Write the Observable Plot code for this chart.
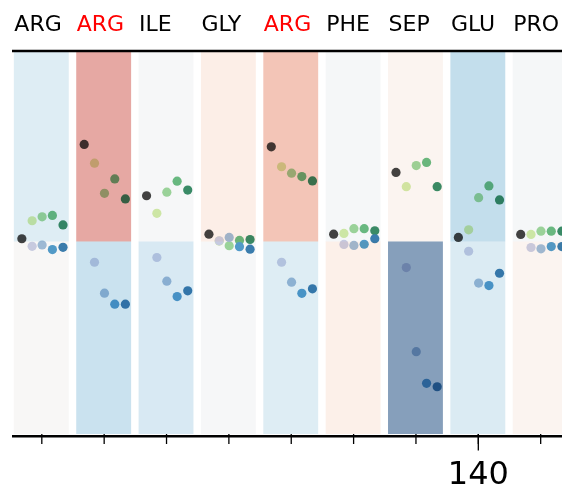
<!DOCTYPE html>
<html>
<head>
<meta charset="utf-8">
<script src="https://cdn.jsdelivr.net/npm/d3@7"></script>
<script src="https://cdn.jsdelivr.net/npm/@observablehq/plot@0.6"></script>
<style>
html, body { margin: 0; padding: 0; background: #ffffff; }
#chart svg { display: block; }
</style>
</head>
<body>
<div id="chart"></div>
<script>
// ---- data ----
const residues = ["ARG", "ARG", "ILE", "GLY", "ARG", "PHE", "SEP", "GLU", "PRO"];
const resNums = [133, 134, 135, 136, 137, 138, 139, 140, 141];
const highlighted = [false, true, false, false, true, false, false, false, false];
const labelledTicks = [140];

// shading value of the upper / lower half of each residue column
const topShade = [-0.26, 0.64, -0.04, 0.16, 0.47, -0.05, 0.08, -0.42, -0.05];
const bottomShade = [0.0, -0.38, -0.30, -0.04, -0.26, 0.14, -0.94, -0.28, 0.08];

// reference value (dark point)
const reference = [0.017, 0.515, 0.244, 0.041, 0.502, 0.041, 0.367, 0.024, 0.040];
// upper (green) series
const upper1 = [0.112, 0.416, 0.151, 0.005, 0.397, 0.045, 0.292, 0.064, 0.040];
const upper2 = [0.133, 0.257, 0.263, -0.020, 0.363, 0.070, 0.403, 0.234, 0.057];
const upper3 = [0.140, 0.333, 0.321, 0.008, 0.345, 0.070, 0.420, 0.296, 0.057];
const upper4 = [0.090, 0.227, 0.274, 0.013, 0.322, 0.059, 0.292, 0.222, 0.057];
// lower (blue) series
const lower1 = [-0.023, -0.107, -0.082, 0.006, -0.107, -0.013, -0.135, -0.049, -0.029];
const lower2 = [-0.016, -0.270, -0.207, 0.024, -0.212, -0.018, -0.579, -0.217, -0.036];
const lower3 = [-0.040, -0.328, -0.288, -0.025, -0.271, -0.012, -0.746, -0.230, -0.024];
const lower4 = [-0.028, -0.328, -0.258, -0.038, -0.247, 0.017, -0.764, -0.165, -0.024];

// ---- layout / style ----
const yLow = -1.016, yHigh = 1;
const half = 0.44;
const refOffset = -0.32;
const seriesOffsets = [-0.155, 0.005, 0.17, 0.34];
const greens = ["#d5eeaa", "#a0d99d", "#6cbe84", "#3b8f69"];
const blues = ["#cdd1e8", "#a2bfdc", "#549fcf", "#3c80b2"];

const idx = d3.range(residues.length);
const bands = idx.flatMap(i => [
  {num: resNums[i], lo: 0, hi: yHigh, shade: topShade[i]},
  {num: resNums[i], lo: yLow, hi: 0, shade: bottomShade[i]}
]);

const dotMark = (values, offset, color) =>
  Plot.dot(idx, {x: i => resNums[i] + offset, y: i => values[i], r: 4.6, fill: color, stroke: "none"});

const upperSeries = [upper1, upper2, upper3, upper4];
const lowerSeries = [lower1, lower2, lower3, lower4];

const chart = Plot.plot({
  width: 562,
  height: 491,
  marginLeft: 12,
  marginRight: 0,
  marginTop: 52,
  marginBottom: 57,
  x: {domain: [132.53, 141.35], axis: null},
  y: {domain: [yLow, yHigh], axis: null},
  color: {type: "linear", scheme: "RdBu", domain: [-1, 1], reverse: true},
  style: {fontFamily: "DejaVu Sans", background: "white", color: "black"},
  marks: [
    Plot.frame({fill: "white", stroke: "none"}),
    dotMark(reference, refOffset, "#444444"),
    ...upperSeries.map((s, k) => dotMark(s, seriesOffsets[k], greens[k])),
    ...lowerSeries.map((s, k) => dotMark(s, seriesOffsets[k], blues[k])),
    Plot.rect(bands, {
      x1: d => d.num - half, x2: d => d.num + half,
      y1: "lo", y2: "hi",
      fill: "shade", fillOpacity: 0.5, mixBlendMode: "multiply"
    }),
    Plot.ruleY([yHigh], {stroke: "black", strokeWidth: 2.5, dy: -1.5}),
    Plot.ruleY([yLow], {stroke: "black", strokeWidth: 2.5, dy: 1.8}),
    Plot.axisX(resNums, {tickSize: 10, strokeWidth: 1.3, tickFormat: () => "", label: null}),
    Plot.axisX(labelledTicks, {tickSize: 16.5, tickPadding: 10.5, strokeWidth: 1.3, fontSize: 32, tickFormat: d => String(d), label: null}),
    Plot.text(idx.filter(i => !highlighted[i]), {
      x: i => resNums[i] - half, text: i => residues[i],
      frameAnchor: "top", dy: -22, lineAnchor: "bottom", textAnchor: "start",
      fontSize: 22, fill: "black"
    }),
    Plot.text(idx.filter(i => highlighted[i]), {
      x: i => resNums[i] - half, text: i => residues[i],
      frameAnchor: "top", dy: -22, lineAnchor: "bottom", textAnchor: "start",
      fontSize: 22, fill: "#ff0000"
    })
  ]
});
document.getElementById("chart").appendChild(chart);
</script>
</body>
</html>
